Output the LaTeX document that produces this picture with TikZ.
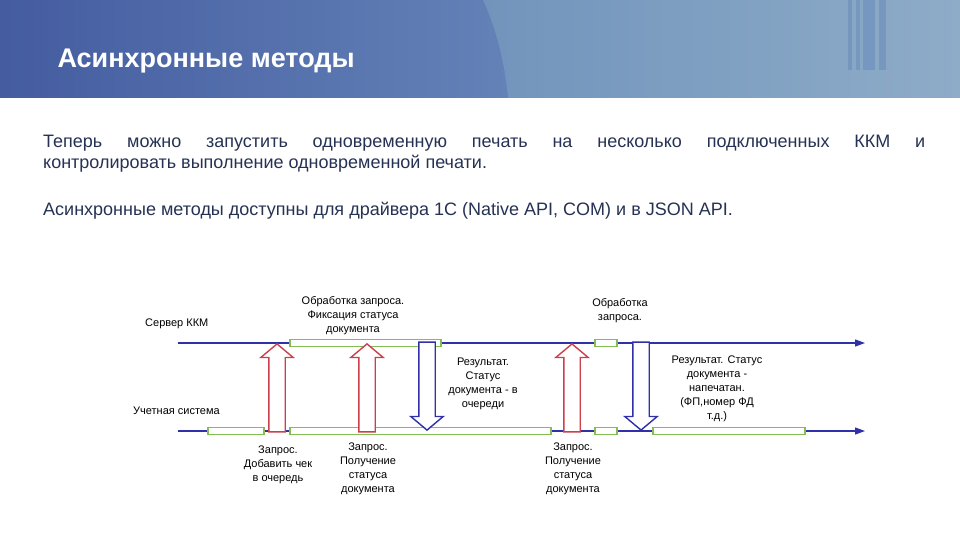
\documentclass[tikz,border=0pt]{standalone}
\usepackage{fontspec}
\setmainfont{Liberation Sans}
\usetikzlibrary{shapes.arrows}
\usetikzlibrary{arrows.meta}
\definecolor{hdrleft}{RGB}{68,92,160}
\definecolor{hdrmid}{RGB}{128,164,204}
\definecolor{hdrlight}{RGB}{114,148,188}
\definecolor{hdrright}{RGB}{142,172,200}
\definecolor{stripeblue}{RGB}{104,138,186}
\definecolor{bodytext}{RGB}{38,50,84}
\definecolor{lineblue}{RGB}{48,48,168}
\definecolor{reqred}{RGB}{204,64,76}
\definecolor{bargreen}{RGB}{130,190,84}
\tikzset{
    timeline/.style = {draw=lineblue, line width=1.2pt, -{Triangle[length=10pt,width=7pt]}},
    bar/.style = {rectangle, draw=bargreen, line width=1.3pt, fill=white, minimum height=7pt, inner sep=0pt},
    blockarrow/.style = {single arrow, line width=1.4pt, fill=white, inner xsep=0pt, inner ysep=7.5pt,
        single arrow head extend=8pt, single arrow tip angle=100, minimum height=88pt, anchor=tip},
    reqarrow/.style = {blockarrow, draw=reqred, rotate=90},
    resarrow/.style = {blockarrow, draw=lineblue, rotate=-90},
    lbl/.style = {align=center, inner sep=0pt, font=\fontsize{11}{14}\selectfont},
    stripe/.style = {fill=stripeblue, opacity=0.55},
}

\begin{document}
\begin{tikzpicture}[x=1pt,y=-1pt]
\useasboundingbox (0,0) rectangle (960,540);
\fill[white] (0,0) rectangle (960,540);
% header band
\shade[left color=hdrleft, right color=hdrmid] (0,0) rectangle (960,98);
\shade[left color=hdrlight, right color=hdrright] (483,0) .. controls (497,30) and (505,65) .. (508,98) -- (960,98) -- (960,0) -- cycle;
\foreach \x/\w in {848/4, 856/4, 863/12, 879/7}
    \fill[stripe] (\x,0) rectangle ++(\w,70);
\node[anchor=base west, text=white, font=\fontsize{27}{32}\selectfont\bfseries] (title) at (54,68) {Асинхронные методы};
%
\node[anchor=north west, text width=882pt, align=justify, inner sep=0pt, text=bodytext, font=\fontsize{18}{21}\selectfont] (para) at (43,135)
    {Теперь можно запустить одновременную печать на несколько подключенных ККМ и\linebreak контролировать выполнение одновременной печати.};
\node[anchor=base west, inner sep=0pt, text=bodytext, font=\fontsize{18}{21}\selectfont] (note) at (43,215)
    {Асинхронные методы доступны для драйвера 1С (Native API, COM) и в JSON API.};
%
\coordinate (s0) at (178,343);
\coordinate (s1) at (865,343);
\coordinate (u0) at (178,431);
\coordinate (u1) at (865,431);
\draw[timeline] (s0) -- (s1);
\draw[timeline] (u0) -- (u1);
%
\node[bar, minimum width=151pt] (b1) at (365.5,343) {};
\node[bar, minimum width=22pt] (b2) at (606,343) {};
\node[bar, minimum width=56pt] (c1) at (236,431) {};
\node[bar, minimum width=261pt] (c2) at (420.5,431) {};
\node[bar, minimum width=22pt] (c3) at (606,431) {};
\node[bar, minimum width=152pt] (c4) at (729,431) {};
%
\node[reqarrow] (q1) at (277,343) {};
\node[reqarrow] (q2) at (367,343) {};
\node[reqarrow] (q3) at (572,343) {};
\node[resarrow] (r1) at (427,431) {};
\node[resarrow] (r2) at (641,431) {};
%
\node[lbl, anchor=west] (srv) at (145,324) {Сервер ККМ};
\node[lbl, anchor=west] (acc) at (133,411) {Учетная система};
\node[lbl] (l1) at (353,316) {Обработка запроса.\\Фиксация статуса\\документа};
\node[lbl] (l2) at (278,465) {Запрос.\\Добавить чек\\в очередь};
\node[lbl] (l3) at (368,469) {Запрос.\\Получение\\статуса\\документа};
\node[lbl] (l4) at (483,384) {Результат.\\Статус\\документа - в\\очереди};
\node[lbl] (l5) at (620,311) {Обработка\\запроса.};
\node[lbl] (l6) at (573,469) {Запрос.\\Получение\\статуса\\документа};
\node[lbl] (l7) at (717,389) {Результат. Статус\\документа -\\напечатан.\\(ФП,номер ФД\\т.д.)};
\end{tikzpicture}
\end{document}
